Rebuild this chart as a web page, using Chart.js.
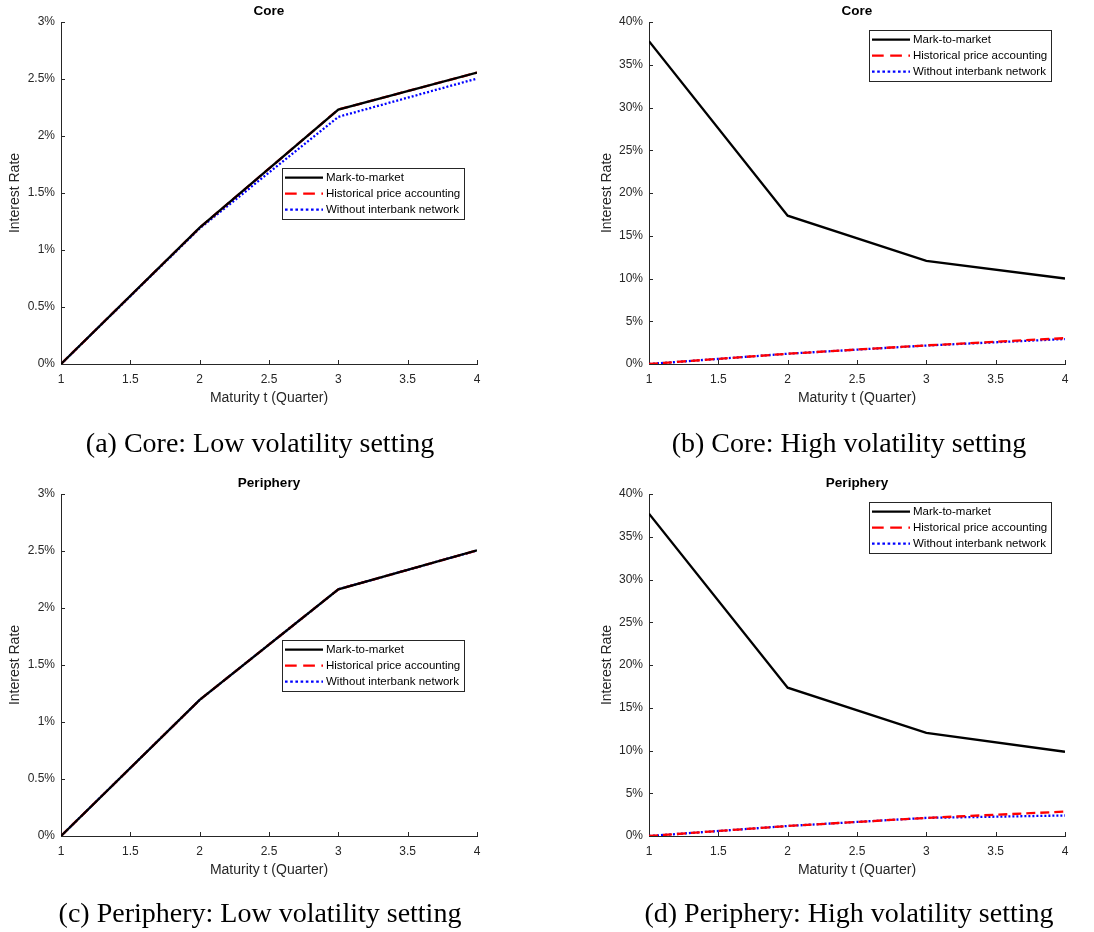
<!DOCTYPE html>
<html>
<head>
<meta charset="utf-8">
<script src="https://cdn.jsdelivr.net/npm/chart.js@4.4.1/dist/chart.umd.min.js"></script>
<style>
html, body { margin: 0; padding: 0; background: #fff; }
body { width: 1094px; height: 932px; position: relative; overflow: hidden; }
canvas { position: absolute; }
.cap { position: absolute; font-family: "Liberation Serif", serif; font-size: 28px; color: #000;
       white-space: nowrap; transform: translate(-50%, -50%); }
</style>
</head>
<body>
<canvas id="coreLow" width="547" height="466" style="left:0;top:0"></canvas>
<canvas id="coreHigh" width="547" height="466" style="left:547px;top:0"></canvas>
<canvas id="periLow" width="547" height="460" style="left:0;top:472px"></canvas>
<canvas id="periHigh" width="547" height="460" style="left:547px;top:472px"></canvas>
<div class="cap" style="left:260px;top:443px">(a) Core: Low volatility setting</div>
<div class="cap" style="left:849px;top:443px">(b) Core: High volatility setting</div>
<div class="cap" style="left:260px;top:913px">(c) Periphery: Low volatility setting</div>
<div class="cap" style="left:849px;top:913px">(d) Periphery: High volatility setting</div>
<script>
// maturity in quarters, rates in percent
const maturity = [1, 2, 3, 4];
const xTicks = [1, 1.5, 2, 2.5, 3, 3.5, 4];
const lowYTicks = [0, 0.5, 1, 1.5, 2, 2.5, 3];
const highYTicks = [0, 5, 10, 15, 20, 25, 30, 35, 40];
const seriesNames = ['Mark-to-market', 'Historical price accounting', 'Without interbank network'];

const coreLowMtm = [0, 1.196, 2.232, 2.556];
const coreLowHist = [0, 1.196, 2.232, 2.556];
const coreLowNoNet = [0, 1.19, 2.168, 2.504];

const coreHighMtm = [37.75, 17.35, 12.06, 10.0];
const coreHighHist = [0, 1.2, 2.18, 3.02];
const coreHighNoNet = [0, 1.2, 2.16, 2.92];

const periLowMtm = [0, 1.194, 2.164, 2.505];
const periLowHist = [0, 1.194, 2.164, 2.505];
const periLowNoNet = [0, 1.194, 2.164, 2.505];

const periHighMtm = [37.7, 17.35, 12.06, 9.85];
const periHighHist = [0, 1.17, 2.12, 2.85];
const periHighNoNet = [0, 1.17, 2.12, 2.4];

const axisGray = '#262626';
const sans = '"Liberation Sans", Arial, sans-serif';

// inward tick marks, axes title and boxed legend, matlab style
const matlabBits = {
  id: 'matlabBits',
  beforeDatasetsDraw(chart) {
    const ctx = chart.ctx, a = chart.chartArea;
    const xs = chart.scales.x, ys = chart.scales.y;
    ctx.save();
    ctx.strokeStyle = axisGray;
    ctx.lineWidth = 1;
    ctx.beginPath();
    xs.ticks.forEach(t => {
      const px = Math.round(xs.getPixelForValue(t.value)) + 0.5;
      ctx.moveTo(px, a.bottom);
      ctx.lineTo(px, a.bottom - 4);
    });
    ys.ticks.forEach(t => {
      const py = Math.round(ys.getPixelForValue(t.value)) + 0.5;
      ctx.moveTo(a.left, py);
      ctx.lineTo(a.left + 4, py);
    });
    ctx.stroke();
    ctx.restore();
  },
  afterDraw(chart, args, opts) {
    const ctx = chart.ctx, a = chart.chartArea;
    ctx.save();
    ctx.fillStyle = '#000';
    ctx.font = 'bold 13.5px ' + sans;
    ctx.textAlign = 'center';
    ctx.textBaseline = 'middle';
    ctx.fillText(opts.title, (a.left + a.right) / 2, opts.titleY);

    const lx = a.left + opts.legendX, ly = a.top + opts.legendY;
    ctx.fillStyle = '#fff';
    ctx.fillRect(lx, ly, 182, 51);
    ctx.strokeStyle = axisGray;
    ctx.lineWidth = 1;
    ctx.strokeRect(Math.round(lx) + 0.5, Math.round(ly) + 0.5, 182, 51);
    ctx.font = '11.5px ' + sans;
    ctx.textAlign = 'left';
    chart.data.datasets.forEach((ds, i) => {
      const ry = ly + 9.7 + 16 * i;
      ctx.beginPath();
      ctx.setLineDash(ds.borderDash ? ds.borderDash.map(d => d * 1.3) : []);
      ctx.strokeStyle = ds.borderColor;
      ctx.lineWidth = ds.borderWidth;
      ctx.moveTo(lx + 3, ry);
      ctx.lineTo(lx + 41, ry);
      ctx.stroke();
      ctx.setLineDash([]);
      ctx.fillStyle = '#000';
      ctx.fillText(ds.label, lx + 44, ry);
    });
    ctx.restore();
  }
};

function pts(ys) {
  return maturity.map((m, i) => ({ x: m, y: ys[i] }));
}

function makeChart(id, mtm, hist, noNet, yTicks, panel) {
  new Chart(document.getElementById(id), {
    type: 'line',
    data: {
      datasets: [
        { label: seriesNames[0], data: pts(mtm), borderColor: '#000000', borderWidth: 2.3, pointRadius: 0 },
        { label: seriesNames[1], data: pts(hist), borderColor: '#ff0000', borderWidth: 2.3, borderDash: [9, 5], pointRadius: 0 },
        { label: seriesNames[2], data: pts(noNet), borderColor: '#0000ff', borderWidth: 2.3, borderDash: [2, 2], pointRadius: 0 }
      ]
    },
    options: {
      responsive: false,
      animation: false,
      devicePixelRatio: 1,
      layout: {
        padding: { left: panel.padLeft, right: panel.padRight, top: 22, bottom: panel.height - 364 - 42.4 }
      },
      scales: {
        x: {
          type: 'linear',
          min: 1,
          max: 4,
          afterBuildTicks: s => { s.ticks = xTicks.map(v => ({ value: v })); },
          afterFit: s => { s.height = 42.4; },
          grid: { display: true, drawOnChartArea: false, drawTicks: false },
          border: { display: true, color: axisGray, width: 1 },
          ticks: { padding: 8, color: axisGray, font: { family: sans, size: 12 }, maxRotation: 0, callback: v => String(v) },
          title: { display: true, text: 'Maturity t (Quarter)', color: axisGray, padding: 0, font: { family: sans, size: 14 } }
        },
        y: {
          type: 'linear',
          min: yTicks[0],
          max: yTicks[yTicks.length - 1],
          afterBuildTicks: s => { s.ticks = yTicks.map(v => ({ value: v })); },
          afterFit: s => { s.width = panel.yWidth; },
          grid: { display: true, drawOnChartArea: false, drawTicks: false },
          border: { display: true, color: axisGray, width: 1 },
          ticks: { padding: 6, color: axisGray, font: { family: sans, size: 12 }, callback: v => v + '%' },
          title: { display: true, text: 'Interest Rate', color: axisGray, padding: 0, font: { family: sans, size: 14 } }
        }
      },
      plugins: {
        legend: { display: false },
        tooltip: { enabled: false },
        matlabBits: { title: panel.title, titleY: 11.3, legendX: panel.legendX, legendY: panel.legendY }
      }
    },
    plugins: [matlabBits]
  });
}

const leftCol = { padLeft: 6.6, padRight: 70, yWidth: 54.4, legendX: 221, legendY: 146 };
const rightCol = { padLeft: 51.6, padRight: 29, yWidth: 50.4, legendX: 220, legendY: 8 };

makeChart('coreLow', coreLowMtm, coreLowHist, coreLowNoNet, lowYTicks, Object.assign({ title: 'Core', height: 466 }, leftCol));
makeChart('coreHigh', coreHighMtm, coreHighHist, coreHighNoNet, highYTicks, Object.assign({ title: 'Core', height: 466 }, rightCol));
makeChart('periLow', periLowMtm, periLowHist, periLowNoNet, lowYTicks, Object.assign({ title: 'Periphery', height: 460 }, leftCol));
makeChart('periHigh', periHighMtm, periHighHist, periHighNoNet, highYTicks, Object.assign({ title: 'Periphery', height: 460 }, rightCol));
</script>
</body>
</html>
